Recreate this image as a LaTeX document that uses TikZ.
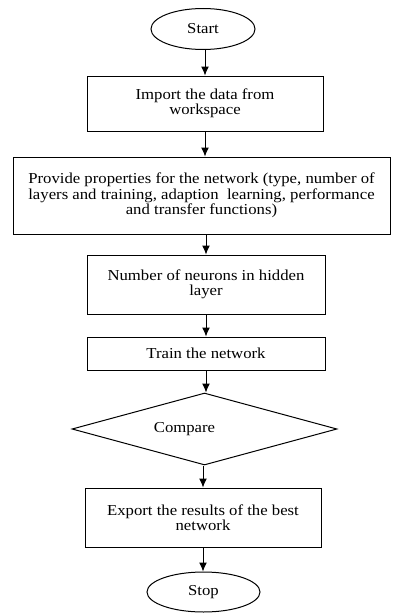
\documentclass[tikz,border=0pt]{standalone}
\usepackage{fontspec}
\setmainfont{Liberation Serif}[FakeStretch=1.1]
\usepackage{tikz}
\usetikzlibrary{shapes,arrows,arrows.meta}
\usetikzlibrary{arrows,calc,positioning}
\tikzset{
    roundblock/.style = {draw, ellipse, inner sep=0pt, minimum height=41pt, minimum width=104pt},
    block/.style = {draw, rectangle, align=center, inner sep=2pt, minimum height=1cm, minimum width=236pt},
    decision/.style = {draw, diamond, aspect=3.7, inner sep=0pt, minimum height=72pt, minimum width=265pt},
    arrow/.style={draw, -{Latex[length=9pt,width=8pt]}, line width=1pt},
}

\begin{document}
\begin{tikzpicture}[x=1pt, y=-1pt, auto, line width=1pt,
    font=\fontsize{15.2}{15.4}\selectfont]
    \useasboundingbox (0,0) rectangle (392,613);
    \node [roundblock] (start) at (203,29) {Start};
    \node [block, minimum height=55pt] (import) at (205,103.5) {Import the data from\\workspace};
    \node [block, minimum width=377pt, minimum height=77pt] (props) at (201.5,195.5)
        {Provide properties for the network (type, number of\\layers and training, adaption\ \ learning, performance\\and transfer functions)};
    \node [block, minimum width=238pt, minimum height=59pt] (neurons) at (206,284.5) {Number of neurons in hidden\\layer};
    \node [block, minimum width=238pt, minimum height=33pt] (train) at (206,353.5) {Train the network};
    \node [decision] (compare) at (204.5,429) {Compare\hspace*{40pt}};
    \node [block, minimum height=59pt] (export) at (203,517.5) {Export the results of the best\\network};
    \node [roundblock, minimum width=113pt, minimum height=40pt] (stop) at (203.5,592) {Stop};
    \draw [arrow] (import.north |- start.south) -- (import.north);
    \draw [arrow] (import.south) -- (import.south |- props.north);
    \draw [arrow] (neurons.north |- props.south) -- (neurons.north);
    \draw [arrow] (neurons.south) -- (train.north);
    \draw [arrow] (train.south) -- (train.south |- compare.north);
    \draw [arrow] (export.north |- compare.south) -- (export.north);
    \draw [arrow] (export.south) -- (export.south |- stop.north);
\end{tikzpicture}
\end{document}
